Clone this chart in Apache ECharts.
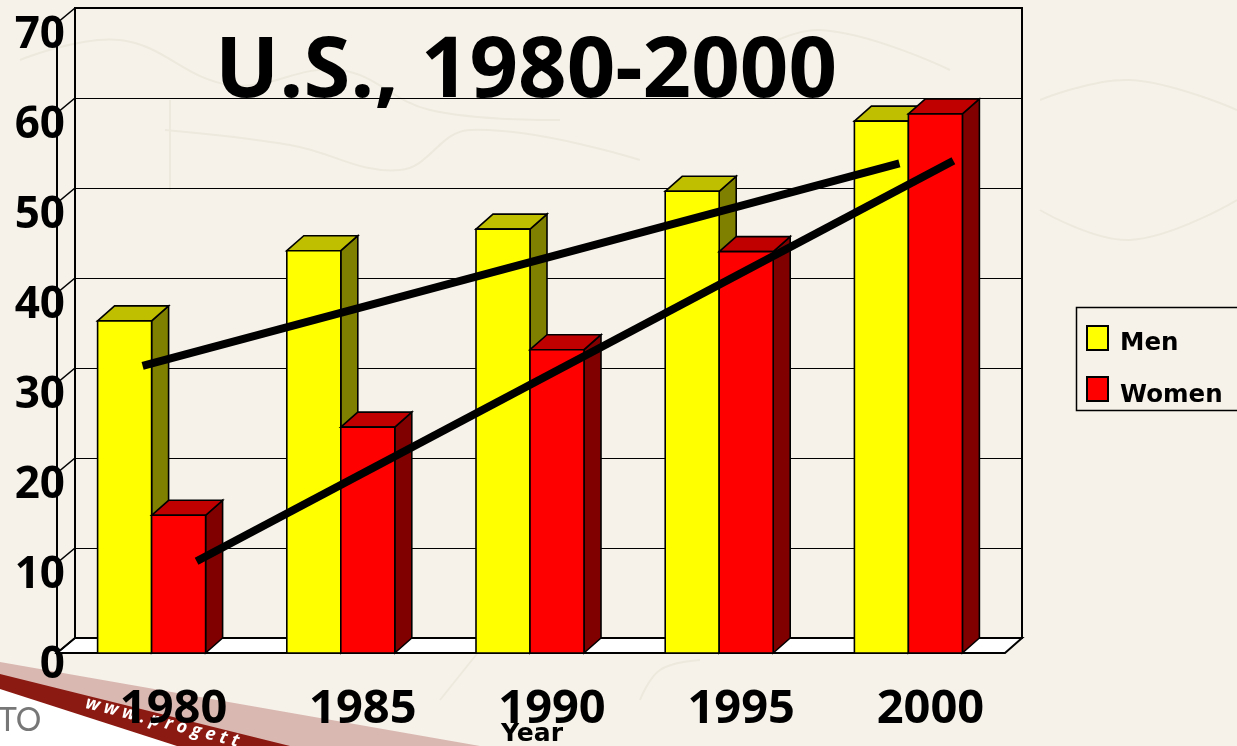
<!DOCTYPE html>
<html><head><meta charset="utf-8">
<style>html,body{margin:0;padding:0;background:#F6F2EA}#c{width:1237px;height:746px}</style>
<script src="https://cdn.jsdelivr.net/npm/echarts@6/dist/echarts.min.js"></script>
</head><body><div id="c"></div>
<script>
const categories = ['1980','1985','1990','1995','2000'];
const menValues = [36.9,44.7,47.1,51.3,59.1];
const womenValues = [15.3,25.1,33.7,44.6,59.9];
const menTrend = [31.9,54.4];
const womenTrend = [10.2,54.7];
const yTicks = [0,10,20,30,40,50,60,70];

const DX = 17, DY = 15, BARW = 54;
const border = {stroke:'#000',lineWidth:1.6};
function bar3d(offset, front, top, side){
  return function(params, api){
    const base = api.coord([api.value(0),0]);
    const head = api.coord([api.value(0),api.value(1)]);
    const x0 = base[0]+offset, x1 = x0+BARW, y0 = base[1], y1 = head[1];
    const poly = (pts,fill)=>({type:'polygon',shape:{points:pts},style:Object.assign({fill:fill},border)});
    return {type:'group',children:[
      poly([[x1,y0],[x1+DX,y0-DY],[x1+DX,y1-DY],[x1,y1]],side),
      poly([[x0,y1],[x0+DX,y1-DY],[x1+DX,y1-DY],[x1,y1]],top),
      poly([[x0,y0],[x1,y0],[x1,y1],[x0,y1]],front)
    ]};
  };
}
function trend(vals, offset){
  return function(params, api){
    const a = api.coord([0,vals[0]]), b = api.coord([4,vals[1]]);
    return {type:'line',shape:{x1:a[0]+offset,y1:a[1],x2:b[0]+offset,y2:b[1]},style:{stroke:'#000',lineWidth:8}};
  };
}
const crack = (pts)=>({type:'polyline',silent:true,z:-5,shape:{points:pts,smooth:0.4},style:{stroke:'#EDE9DD',lineWidth:2,fill:null}});

const option = {
  animation:false,
  backgroundColor:'#F6F2EA',
  textStyle:{fontFamily:'Open Sans'},
  title:{text:'U.S., 1980-2000',left:210,top:25,textStyle:{fontFamily:'Open Sans',fontWeight:'bold',fontSize:85,color:'#000'},z:20},
  legend:[
    {data:['Men','Women'],orient:'vertical',left:1086,top:325,padding:0,itemWidth:21,itemHeight:24,itemGap:25,
     icon:'rect',formatter:()=>'',textStyle:{fontSize:10}},
    {data:['Men','Women'],orient:'vertical',left:1115,top:331,padding:0,itemWidth:0,itemHeight:24,itemGap:27,
     icon:'none',textStyle:{fontFamily:'DejaVu Sans',fontWeight:'bold',fontSize:24.5,color:'#000'}}
  ],
  grid:[
    {left:57,top:23,width:946,height:630,outerBoundsMode:'none'},
    {left:75,top:8,width:947,height:630,outerBoundsMode:'none',show:true,borderColor:'#000',borderWidth:2,backgroundColor:'transparent'},
    {left:57,top:35,width:946,height:630,outerBoundsMode:'none'}
  ],
  xAxis:[
    {type:'category',gridIndex:0,data:categories,axisTick:{show:false},
     axisLine:{show:true,lineStyle:{color:'#000',width:2}},
     axisLabel:{fontFamily:'Open Sans',fontWeight:'bold',fontSize:47,color:'#000',margin:33,padding:[0,0,0,44]},
     name:'Year',nameLocation:'middle',nameGap:69,nameMoveOverlap:false,
     nameTextStyle:{fontFamily:'DejaVu Sans',fontWeight:'bold',fontSize:25,color:'#000',padding:[0,0,0,4]}},
    {type:'category',gridIndex:1,data:categories,show:false},
    {type:'category',gridIndex:2,data:categories,show:false}
  ],
  yAxis:[
    {type:'value',gridIndex:0,min:0,max:70,interval:10,splitLine:{show:false},axisTick:{show:false},
     axisLine:{show:true,lineStyle:{color:'#000',width:2}},axisLabel:{show:false}},
    {type:'value',gridIndex:1,min:0,max:70,interval:10,axisLabel:{show:false},axisTick:{show:false},axisLine:{show:false},
     splitLine:{show:true,lineStyle:{color:'#000',width:1.2,type:'solid'}}},
    {type:'value',gridIndex:2,min:0,max:70,interval:10,splitLine:{show:false},axisTick:{show:false},axisLine:{show:false},
     axisLabel:{fontFamily:'Open Sans',fontWeight:'bold',fontSize:44,color:'#000',margin:-8}}
  ],
  series:[
    {type:'custom',name:'floor',xAxisIndex:0,yAxisIndex:0,z:1,silent:true,clip:false,data:[[0,0]],
     renderItem:(p,api)=>{
       const cs=p.coordSys; const y=cs.y+cs.height, l=cs.x, r=cs.x+cs.width+2;
       return {type:'polygon',shape:{points:[[l,y],[r,y],[r+DX,y-DY],[l+18,y-DY]]},style:{fill:'#fff',stroke:'#000',lineWidth:2}};
     }},
    {type:'custom',name:'ticks',xAxisIndex:0,yAxisIndex:0,z:1,silent:true,clip:false,
     data:yTicks.map(v=>[0,v]),
     renderItem:(p,api)=>{
       const cs=p.coordSys; const y=api.coord([0,api.value(1)])[1];
       return {type:'line',shape:{x1:cs.x,y1:y,x2:cs.x+18,y2:y-DY},style:{stroke:'#000',lineWidth:1.6}};
     }},
    {type:'custom',name:'Men',xAxisIndex:0,yAxisIndex:0,z:3,clip:false,
     itemStyle:{color:'#FFFF00',borderColor:'#000',borderWidth:2},
     encode:{x:0,y:1},data:menValues.map((v,i)=>[i,v]),
     renderItem:bar3d(-BARW,'#FFFF00','#BFBF00','#808000')},
    {type:'custom',name:'Women',xAxisIndex:0,yAxisIndex:0,z:4,clip:false,
     itemStyle:{color:'#FF0000',borderColor:'#000',borderWidth:2},
     encode:{x:0,y:1},data:womenValues.map((v,i)=>[i,v]),
     renderItem:bar3d(0,'#FF0000','#C00000','#800000')},
    {type:'custom',name:'men trend',xAxisIndex:0,yAxisIndex:0,z:6,silent:true,clip:false,data:[[0,0]],renderItem:trend(menTrend,-9)},
    {type:'custom',name:'women trend',xAxisIndex:0,yAxisIndex:0,z:6,silent:true,clip:false,data:[[0,0]],renderItem:trend(womenTrend,45)}
  ],
  graphic:{elements:[
    crack([[20,60],[120,40],[230,85],[340,70],[430,110],[560,120]]),
    crack([[165,130],[290,145],[400,170],[470,130],[640,160]]),
    crack([[170,100],[170,190]]),
    crack([[740,60],[820,30],[950,70]]),
    crack([[1040,100],[1130,80],[1237,110]]),
    crack([[1040,210],[1130,240],[1237,200]]),
    crack([[440,700],[480,650]]),
    crack([[640,700],[660,670],[700,660]]),
    {type:'polygon',silent:true,z:-4,shape:{points:[[0,662],[480,746],[0,746]]},style:{fill:'#D9B8B1'}},
    {type:'polygon',silent:true,z:-3,shape:{points:[[0,674],[290,746],[0,746]]},style:{fill:'#8B1A12'}},
    {type:'polygon',silent:true,z:-2,shape:{points:[[0,689],[177,746],[0,746]]},style:{fill:'#FFFFFF'}},
    {type:'text',silent:true,z:-1,x:88,y:694,rotation:-0.25,
     style:{text:'w w w . p r o g e t t',fill:'#FFFFFF',font:'italic bold 18px "Open Sans"'}},
    {type:'text',silent:true,z:-1,x:-2,y:705,style:{text:'TO',fill:'#777',font:'32px Lato'}},
    {type:'rect',silent:true,z:-1,shape:{x:1076.5,y:307.5,width:170,height:103},style:{fill:'transparent',stroke:'#000',lineWidth:1.5}}
  ]}
};
echarts.init(document.getElementById('c')).setOption(option);
</script></body></html>
